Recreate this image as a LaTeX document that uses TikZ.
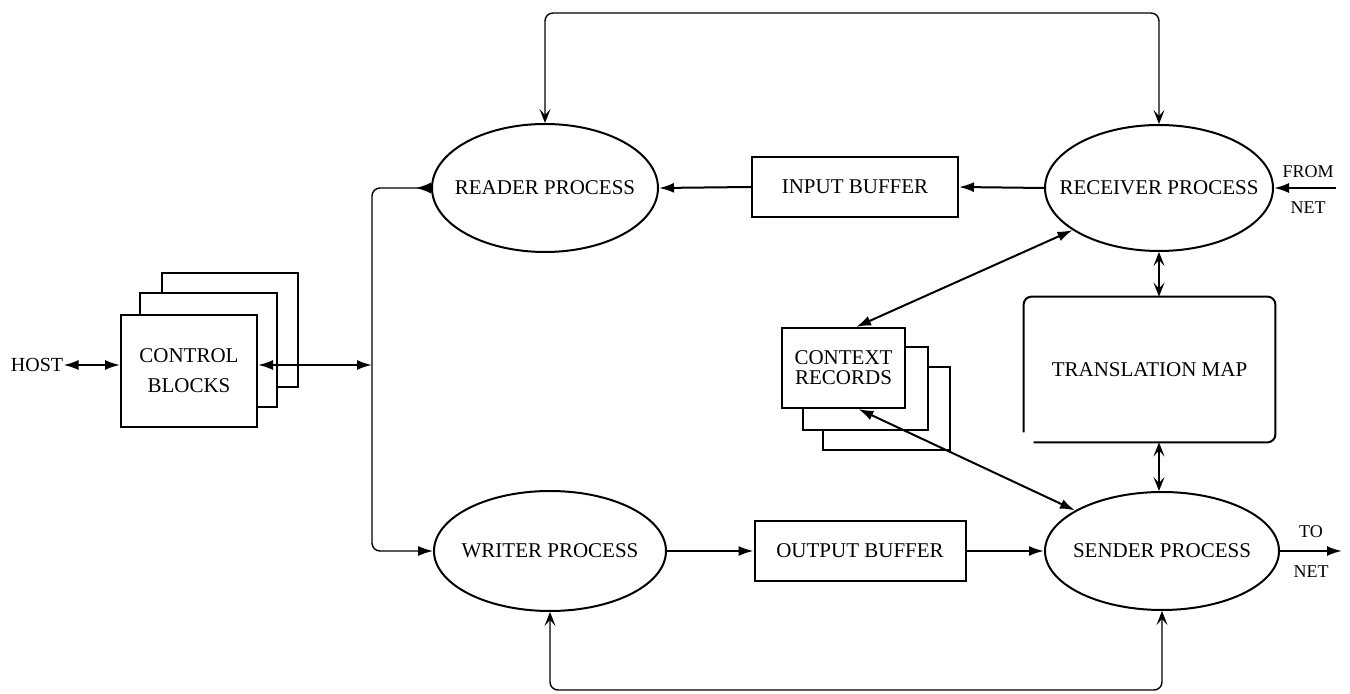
\documentclass[tikz,border=0pt]{standalone}
\usepackage{fontspec}
\setmainfont{Liberation Serif}
\usetikzlibrary{arrows.meta,shapes.geometric,calc}
\tikzset{
  tipA/.tip={Latex[length=7.5pt,width=5pt]},
  tipR/.tip={Latex[length=7.5pt,width=5.5pt,reversed]},
  tipV/.tip={Stealth[length=7pt,width=5.5pt,inset=3pt]},
  lbl/.style={font=\fontsize{10.5}{10}\selectfont, inner sep=0pt},
  proc/.style={draw, ellipse, line width=1pt, inner sep=0pt},
  buf/.style={draw, rectangle, line width=1pt, fill=white, inner sep=0pt, align=center, font=\fontsize{10.5}{10}\selectfont},
  conn/.style={line width=1pt},
  loopln/.style={line width=0.7pt, rounded corners=4pt},
  small/.style={font=\fontsize{9}{9}\selectfont, inner sep=0pt}
}
\begin{document}
\begin{tikzpicture}[x=0.5pt,y=-0.5pt]
\path[use as bounding box] (0,0) rectangle (1350,694);

% processes
\node[proc, minimum width=113pt, minimum height=64pt, label={[lbl]center:READER PROCESS}] (reader) at (545,188) {};
\node[proc, minimum width=114pt, minimum height=63pt, label={[lbl]center:RECEIVER PROCESS}] (receiver) at (1159,188) {};
\node[proc, minimum width=116pt, minimum height=60pt, label={[lbl]center:WRITER PROCESS}] (writer) at (550,551) {};
\node[proc, minimum width=117pt, minimum height=59pt, label={[lbl]center:SENDER PROCESS}] (sender) at (1162,551) {};

% buffers
\node[buf, minimum width=103pt, minimum height=30pt] (ibuf) at (855,187) {INPUT BUFFER};
\node[buf, minimum width=105.5pt, minimum height=30pt] (obuf) at (860,551) {OUTPUT BUFFER};

% control blocks
\node[buf, minimum width=68pt, minimum height=57pt] (cb3) at (230,330) {};
\node[buf, minimum width=68.5pt, minimum height=57pt] (cb2) at (208.5,350) {};
\node[buf, minimum width=68pt, minimum height=56pt, font=\fontsize{10.5}{15}\selectfont] (cb1) at (189,371) {CONTROL\\BLOCKS};

% context records
\node[buf, minimum width=63.5pt, minimum height=41.5pt] (cx3) at (886.5,408.5) {};
\node[buf, minimum width=62.5pt, minimum height=41.5pt] (cx2) at (865.5,388.5) {};
\node[buf, minimum width=61.5pt, minimum height=40pt, font=\fontsize{10.5}{10}\selectfont] (cx1) at (843.5,368) {CONTEXT\\RECORDS};

% translation map
\node[lbl, minimum width=125.5pt, minimum height=72.5pt] (map) at (1149.5,369.5) {TRANSLATION MAP};
\draw[line width=1pt, rounded corners=4pt] ([yshift=5pt]map.south west) -- (map.north west) -- (map.north east) -- (map.south east) -- ([xshift=5pt]map.south west);

% external labels
\node[lbl, font=\fontsize{10}{10}\selectfont] (host) at (37,365) {HOST};
\node[small] (from) at (1308,172) {FROM};
\node[small] (net1) at (1308,208) {NET};
\node[small] (to) at (1311,532) {TO};
\node[small] (net2) at (1311,572) {NET};
\coordinate (fromstart) at (1336,188);
\coordinate (toend) at (1342,551);

% junction of the left bus
\coordinate (jn) at (372,365);
\coordinate (tl) at (0,13);
\coordinate (bl) at (0,690);

% connectors
\draw[conn, tipA-tipA] (host.east) -- (host.east -| cb1.west);
\draw[conn, tipA-tipA] (cb1.east |- jn) -- (jn);
\draw[loopln, -tipR] (jn) |- (reader.west);
\draw[loopln, -tipA] (jn) |- (writer.west);

\draw[conn, -tipA] (ibuf.west) -- (reader.east);
\draw[conn, -tipA] (receiver.west) -- (ibuf.east);
\draw[conn, -tipA] (fromstart) -- (receiver.east);

\draw[conn, -tipA] (writer.east) -- (obuf.west);
\draw[conn, -tipA] (obuf.east) -- (sender.west);
\draw[conn, -tipA] (sender.east) -- (toend);

\draw[loopln, tipV-tipV] (reader.north) -- (reader.north |- tl) -- (receiver.north |- tl) -- (receiver.north);
\draw[loopln, tipV-tipV] (writer.south) -- (writer.south |- bl) -- (sender.south |- bl) -- (sender.south);

\draw[conn, tipV-tipV] (receiver.south) -- (receiver.south |- map.north);
\draw[conn, tipV-tipV] (receiver.south |- map.south) -- (receiver.south |- sender.north);

\draw[conn, tipA-tipA] (cx1.73) -- (receiver.206);
\draw[conn, tipA-tipA] (cx1.290) -- (sender.155);
\end{tikzpicture}
\end{document}
